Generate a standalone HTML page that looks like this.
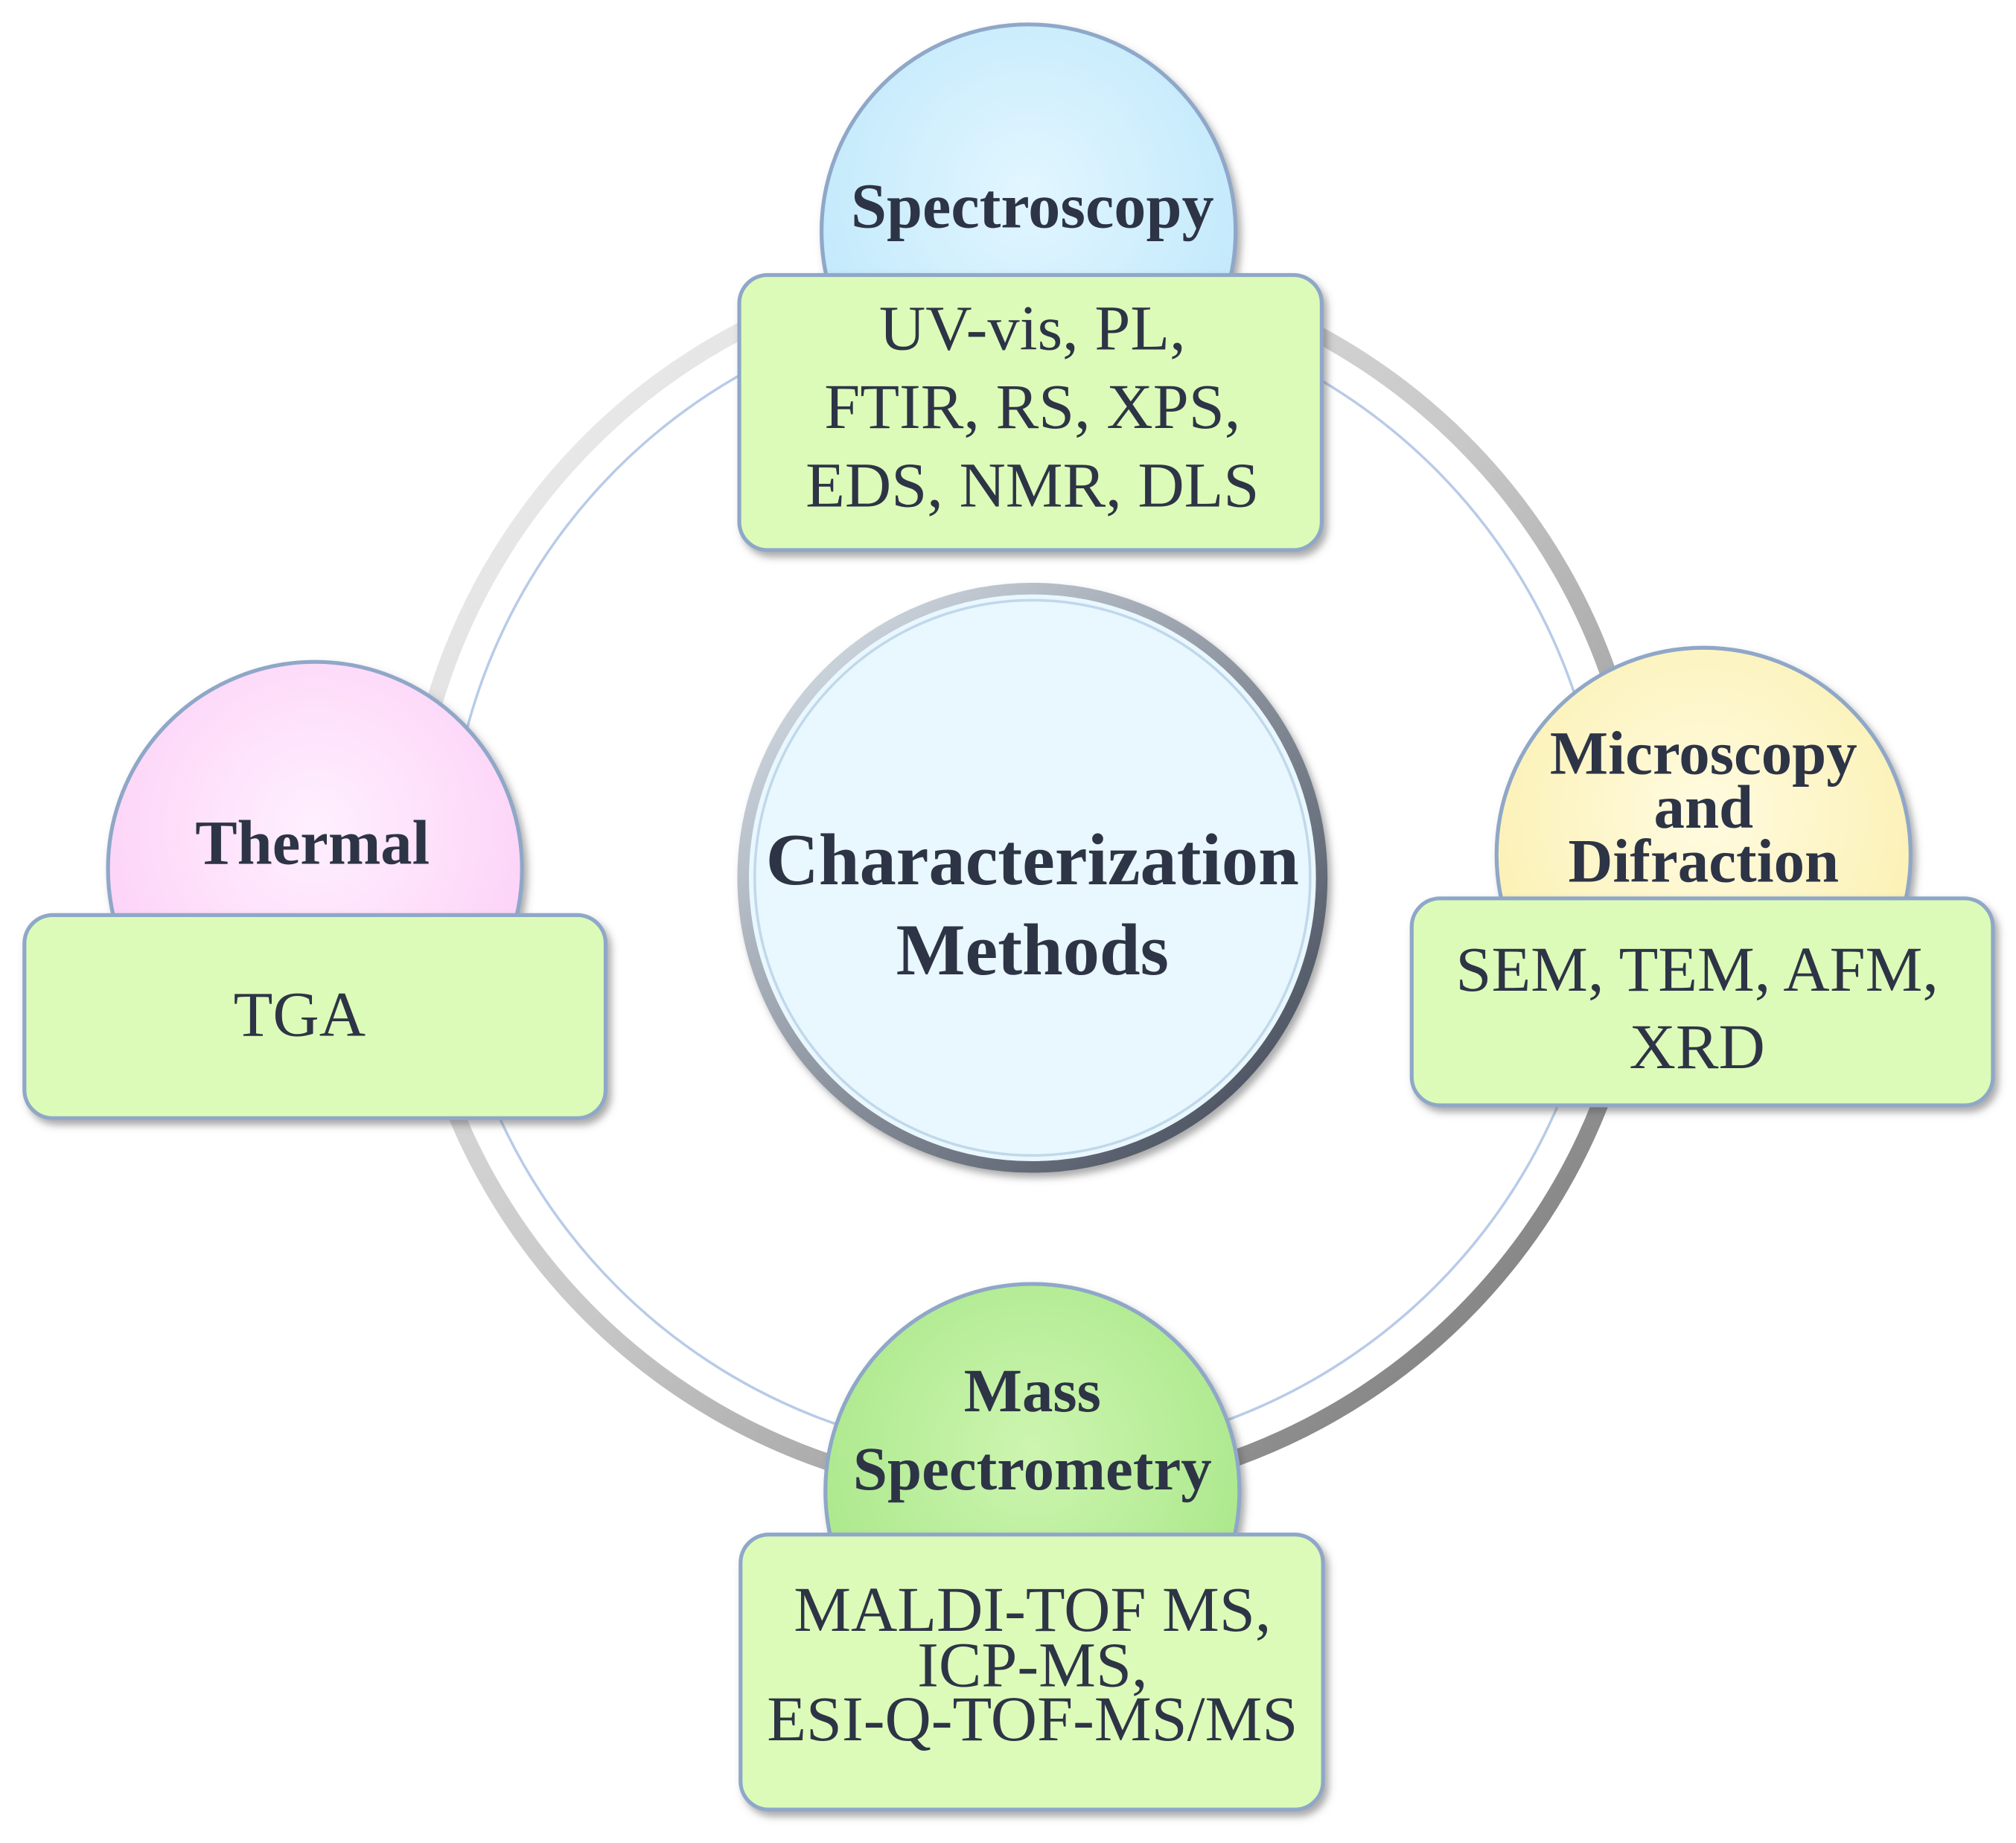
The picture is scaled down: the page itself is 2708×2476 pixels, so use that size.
<!DOCTYPE html>
<html><head><meta charset="utf-8"><style>html,body{margin:0;padding:0;background:#fff}svg{display:block}</style></head>
<body>
<svg width="2708" height="2476" viewBox="0 0 1568 1434" preserveAspectRatio="none" xmlns="http://www.w3.org/2000/svg">
<defs>
<linearGradient id="ring" x1="0" y1="0" x2="1" y2="1">
<stop offset="0" stop-color="#f4f4f4"/><stop offset="0.5" stop-color="#c8c8c8"/><stop offset="1" stop-color="#6e6e6e"/>
</linearGradient>
<linearGradient id="cring" x1="0" y1="0" x2="1" y2="1">
<stop offset="0" stop-color="#e0e8f0"/><stop offset="1" stop-color="#3a4150"/>
</linearGradient>
<radialGradient id="blue" cx="0.5" cy="0.4" r="0.6"><stop offset="0" stop-color="#e2f6ff"/><stop offset="1" stop-color="#bfe8fb"/></radialGradient>
<radialGradient id="pink" cx="0.5" cy="0.4" r="0.6"><stop offset="0" stop-color="#fff0ff"/><stop offset="1" stop-color="#fcd0f6"/></radialGradient>
<radialGradient id="yel" cx="0.5" cy="0.4" r="0.6"><stop offset="0" stop-color="#fffbe0"/><stop offset="1" stop-color="#fbf0b0"/></radialGradient>
<radialGradient id="grn" cx="0.5" cy="0.4" r="0.6"><stop offset="0" stop-color="#cdf5b0"/><stop offset="1" stop-color="#a8e788"/></radialGradient>
<filter id="sh" x="-10%" y="-10%" width="130%" height="130%"><feDropShadow dx="3" dy="4" stdDeviation="3" flood-color="#555" flood-opacity="0.5"/></filter>
</defs>
<circle cx="798" cy="683" r="480" fill="none" stroke="url(#ring)" stroke-width="13"/>
<circle cx="798" cy="683" r="450" fill="none" stroke="#b8cbe8" stroke-width="2"/>
<circle cx="803" cy="683" r="225" fill="#e9f7ff" stroke="url(#cring)" stroke-width="9" filter="url(#sh)"/>
<circle cx="803" cy="683" r="216" fill="none" stroke="#c0d8ea" stroke-width="2"/>
<text x="803" y="688" font-family="Liberation Serif, serif" font-weight="bold" font-size="57" fill="#2d3446" text-anchor="middle">Characterization</text>
<text x="803" y="758" font-family="Liberation Serif, serif" font-weight="bold" font-size="57" fill="#2d3446" text-anchor="middle">Methods</text>

<g font-family="Liberation Serif, serif" fill="#2d3446" text-anchor="middle">
<circle cx="800" cy="180" r="161" fill="url(#blue)" stroke="#8fa7c8" stroke-width="3" filter="url(#sh)"/>
<text x="803" y="177" font-weight="bold" font-size="50">Spectroscopy</text>
<rect x="575" y="214" width="453" height="214" rx="22" fill="#ddfbb8" stroke="#8fa7c8" stroke-width="3" filter="url(#sh)"/>
<text x="803" y="272" font-size="50">UV-vis,  PL,</text>
<text x="803" y="333" font-size="50">FTIR, RS, XPS,</text>
<text x="803" y="394" font-size="50">EDS, NMR, DLS</text>

<circle cx="245" cy="676" r="161" fill="url(#pink)" stroke="#8fa7c8" stroke-width="3" filter="url(#sh)"/>
<text x="243" y="672" font-weight="bold" font-size="49">Thermal</text>
<rect x="19" y="712" width="452" height="158" rx="22" fill="#ddfbb8" stroke="#8fa7c8" stroke-width="3" filter="url(#sh)"/>
<text x="233" y="806" font-size="50">TGA</text>

<circle cx="1325" cy="665" r="161" fill="url(#yel)" stroke="#8fa7c8" stroke-width="3" filter="url(#sh)"/>
<text x="1325" y="602" font-weight="bold" font-size="48">Microscopy</text>
<text x="1325" y="644" font-weight="bold" font-size="48">and</text>
<text x="1325" y="686" font-weight="bold" font-size="48">Difraction</text>
<rect x="1098" y="699" width="452" height="161" rx="22" fill="#ddfbb8" stroke="#8fa7c8" stroke-width="3" filter="url(#sh)"/>
<text x="1320" y="771" font-size="50">SEM, TEM, AFM,</text>
<text x="1320" y="831" font-size="50">XRD</text>

<circle cx="803" cy="1160" r="161" fill="url(#grn)" stroke="#8fa7c8" stroke-width="3" filter="url(#sh)"/>
<text x="803" y="1098" font-weight="bold" font-size="48">Mass</text>
<text x="803" y="1159" font-weight="bold" font-size="48">Spectrometry</text>
<rect x="576" y="1194" width="453" height="214" rx="22" fill="#ddfbb8" stroke="#8fa7c8" stroke-width="3" filter="url(#sh)"/>
<text x="803" y="1269" font-size="50">MALDI-TOF  MS,</text>
<text x="803" y="1312" font-size="50">ICP-MS,</text>
<text x="803" y="1354" font-size="50">ESI-Q-TOF-MS/MS</text>
</g>
</svg>
</body></html>
